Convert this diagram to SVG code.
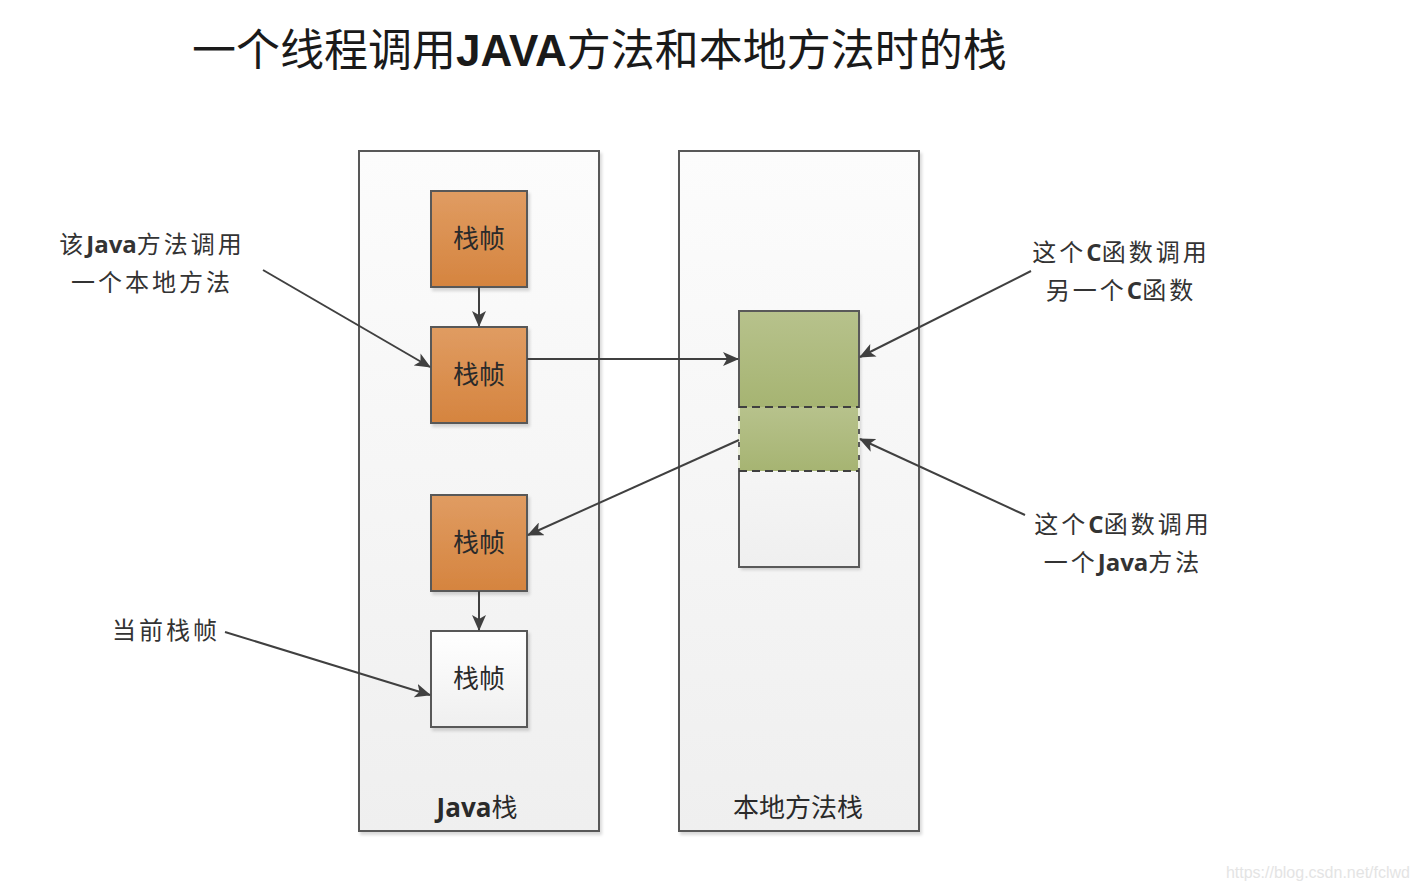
<svg xmlns="http://www.w3.org/2000/svg" width="1418" height="890" viewBox="0 0 1418 890">
<style>
text{font-family:"Noto Sans CJK SC","Liberation Sans",sans-serif;fill:#333}
.title{font-size:44px;fill:#1a1a1a}
.lbl{font-size:24px;letter-spacing:3px;text-anchor:middle}
.ft{font-size:26px;text-anchor:middle;fill:#2a2a2a}
.b{font-weight:bold;font-family:"Open Sans","Liberation Sans",sans-serif;letter-spacing:0}
.box{stroke:#595959;stroke-width:2}
.line{stroke:#404040;stroke-width:2;fill:none}
.wm{font-family:"Liberation Sans",sans-serif;font-size:16px;fill:#e4e4e4;text-anchor:end}
</style>
<defs>
<linearGradient id="gCont" x1="0" y1="0" x2="0" y2="1"><stop offset="0" stop-color="#fcfcfc"/><stop offset="1" stop-color="#efefef"/></linearGradient>
<linearGradient id="gOr" x1="0" y1="0" x2="0" y2="1"><stop offset="0" stop-color="#e09c62"/><stop offset="1" stop-color="#d5843f"/></linearGradient>
<linearGradient id="gWh" x1="0" y1="0" x2="0" y2="1"><stop offset="0" stop-color="#ffffff"/><stop offset="1" stop-color="#efefef"/></linearGradient>
<linearGradient id="gGr" x1="0" y1="0" x2="0" y2="1"><stop offset="0" stop-color="#b7c28c"/><stop offset="1" stop-color="#a6b472"/></linearGradient>
<filter id="sh" x="-10%" y="-10%" width="130%" height="130%"><feDropShadow dx="2" dy="3" stdDeviation="1.5" flood-color="#000" flood-opacity="0.15"/></filter>
<marker id="ar" viewBox="0 0 16 14" refX="15" refY="7" markerWidth="16" markerHeight="14" markerUnits="userSpaceOnUse" orient="auto"><path d="M0,0 L16,7 L0,14 L4,7 Z" fill="#404040"/></marker>
</defs>
<rect width="1418" height="890" fill="#fff"/>
<text class="title" x="192" y="66">一个线程调用<tspan font-weight="bold" font-family="'Liberation Sans',sans-serif">JAVA</tspan>方法和本地方法时的栈</text>

<g id="java-stack">
<rect class="box" x="359" y="151" width="240" height="680" fill="url(#gCont)" filter="url(#sh)"/>
<text class="ft" x="477" y="817"><tspan class="b">Java</tspan>栈</text>
</g>
<g id="native-stack">
<rect class="box" x="679" y="151" width="240" height="680" fill="url(#gCont)" filter="url(#sh)"/>
<text class="ft" x="798" y="817">本地方法栈</text>
</g>

<g id="frame1"><rect class="box" x="431" y="191" width="96" height="96" fill="url(#gOr)" filter="url(#sh)"/><text class="ft" x="479" y="248">栈帧</text></g>
<g id="frame2"><rect class="box" x="431" y="327" width="96" height="96" fill="url(#gOr)" filter="url(#sh)"/><text class="ft" x="479" y="384">栈帧</text></g>
<g id="frame3"><rect class="box" x="431" y="495" width="96" height="96" fill="url(#gOr)" filter="url(#sh)"/><text class="ft" x="479" y="552">栈帧</text></g>
<g id="frame4"><rect class="box" x="431" y="631" width="96" height="96" fill="url(#gWh)" filter="url(#sh)"/><text class="ft" x="479" y="688">栈帧</text></g>

<g id="native-frames">
<rect x="739" y="311" width="120" height="256" fill="url(#gWh)" filter="url(#sh)"/>
<rect x="739" y="311" width="120" height="96" fill="url(#gGr)"/>
<rect x="739" y="407" width="120" height="64" fill="url(#gGr)"/>
<rect class="box" x="739" y="311" width="120" height="256" fill="none"/>
<line x1="739" y1="407" x2="859" y2="407" stroke="#404040" stroke-width="2" stroke-dasharray="8,5"/>
<line x1="739" y1="471" x2="859" y2="471" stroke="#404040" stroke-width="2" stroke-dasharray="8,5"/>
<line x1="739" y1="408" x2="739" y2="470" stroke="#e8ecd8" stroke-width="2" stroke-dasharray="8,5"/>
<line x1="859" y1="408" x2="859" y2="470" stroke="#e8ecd8" stroke-width="2" stroke-dasharray="8,5"/>
</g>

<g id="labels">
<text class="lbl" x="152" y="253"><tspan>该</tspan><tspan class="b">Java</tspan><tspan>方法调用</tspan></text>
<text class="lbl" x="152" y="291">一个本地方法</text>
<text class="lbl" x="166" y="639">当前栈帧</text>
<text class="lbl" x="1121" y="261">这个<tspan class="b">C</tspan>函数调用</text>
<text class="lbl" x="1121" y="299">另一个<tspan class="b">C</tspan>函数</text>
<text class="lbl" x="1123" y="533">这个<tspan class="b">C</tspan>函数调用</text>
<text class="lbl" x="1123" y="571">一个<tspan class="b">Java</tspan>方法</text>
</g>

<g id="connectors">
<line class="line" x1="479" y1="287" x2="479" y2="326" marker-end="url(#ar)"/>
<line class="line" x1="479" y1="591" x2="479" y2="630" marker-end="url(#ar)"/>
<line class="line" x1="527" y1="359" x2="738" y2="359" marker-end="url(#ar)"/>
<line class="line" x1="739" y1="440" x2="528" y2="535" marker-end="url(#ar)"/>
<line class="line" x1="263" y1="270" x2="430" y2="367" marker-end="url(#ar)"/>
<line class="line" x1="225" y1="632" x2="430" y2="695" marker-end="url(#ar)"/>
<line class="line" x1="1031" y1="271" x2="860" y2="357" marker-end="url(#ar)"/>
<line class="line" x1="1025" y1="515" x2="860" y2="439" marker-end="url(#ar)"/>
</g>
<text class="wm" x="1410" y="878">https://blog.csdn.net/fclwd</text>
</svg>
